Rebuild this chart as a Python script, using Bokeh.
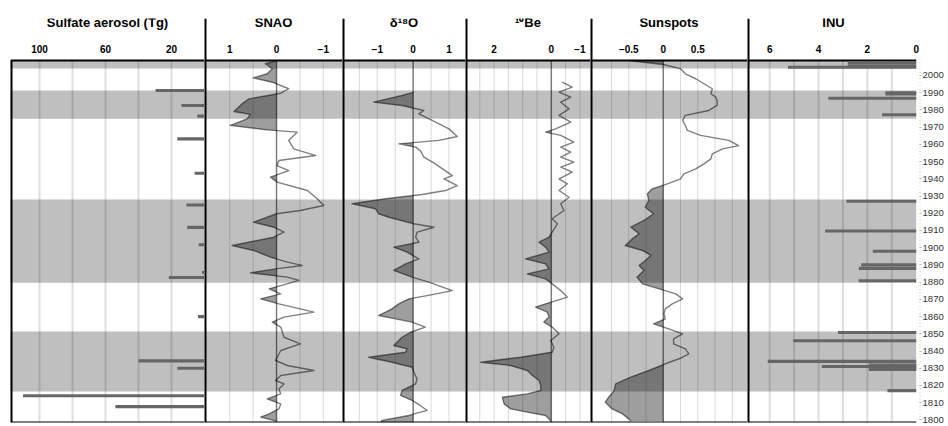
import numpy as np
from bokeh.plotting import figure
from bokeh.layouts import row
from bokeh.models import Range1d, FixedTicker, Span
from bokeh.embed import file_html
from bokeh.resources import INLINE

# ---------------- data ----------------
band_start = [1816.5, 1879.6, 1974.9, 2004.0]
band_end = [1851.3, 1928.0, 1991.3, 2008.7]

sulfate_year = [1991.3, 1982.6, 1976.4, 1963.2, 1943.2, 1924.8, 1911.8, 1901.7,
                1885.6, 1882.7, 1860.0, 1834.3, 1830.0, 1814.0, 1807.7]
sulfate_tg = [29.7, 14.0, 4.4, 16.5, 6.0, 11.0, 10.5, 3.5,
              1.5, 21.6, 4.0, 40.0, 16.5, 110.0, 54.0]

inu_year = [2007.3, 2005.5, 2004.8, 1990.0, 1989.3, 1986.8, 1977.2, 1927.0,
            1909.7, 1897.9, 1890.0, 1888.0, 1880.8, 1850.8, 1846.0, 1834.0,
            1831.8, 1831.0, 1830.2, 1829.3, 1817.0]
inu_value = [2.8, 2.8, 5.25, 1.26, 1.26, 3.6, 1.4, 2.86,
             3.73, 1.78, 2.25, 2.35, 2.36, 3.2, 5.04, 6.08,
             1.94, 3.87, 1.94, 1.94, 1.18]

snao_year = [2008.3, 2006.8, 2003.9, 2001.0, 1998.6, 1996.1, 1992.3, 1989.7, 1986.4, 1983.5,
             1979.1, 1977.4, 1974.8, 1971.0, 1968.4, 1967.1, 1962.3, 1957.4, 1953.5, 1950.6,
             1947.7, 1944.8, 1941.0, 1938.1, 1933.2, 1928.4, 1924.5, 1921.6, 1919.7, 1917.7,
             1914.8, 1911.9, 1909.0, 1906.1, 1901.3, 1898.4, 1894.5, 1891.6, 1889.7, 1887.7,
             1885.4, 1882.9, 1881.0, 1878.0, 1876.1, 1873.2, 1870.3, 1867.4, 1862.6, 1859.7,
             1856.8, 1853.9, 1848.0, 1844.2, 1840.3, 1834.5, 1831.6, 1828.7, 1825.8, 1822.9,
             1820.9, 1818.0, 1815.1, 1812.2, 1809.3, 1806.4, 1803.5, 1801.6, 1799.3]
snao_value = [0.02, 0.24, 0.09, 0.20, 0.50, 0.09, -0.26, -0.09, 0.59, 0.74,
              0.91, 0.56, 0.63, 0.99, 0.20, -0.44, -0.26, -0.37, -0.84, -0.05,
              -0.01, -0.26, 0.13, -0.01, -0.66, -0.87, -1.01, -0.51, 0.00, 0.20,
              0.49, 0.06, -0.16, 0.06, 0.95, 0.49, 0.13, -0.23, -0.55, 0.02,
              0.56, -0.23, -0.48, -0.09, 0.16, -0.09, 0.34, -0.05, -0.80, -0.16,
              0.09, -0.09, -0.16, -0.51, -0.09, 0.02, -0.23, -0.80, -0.09, 0.02,
              -0.16, -0.05, -0.09, 0.20, -0.09, -0.05, 0.16, 0.34, 0.00]

d18o_year = [1990.3, 1988.4, 1984.5, 1982.6, 1979.7, 1977.7, 1973.9, 1969.0, 1964.6, 1962.3,
             1960.3, 1958.4, 1956.4, 1952.6, 1948.7, 1943.9, 1941.9, 1940.0, 1938.1, 1936.1,
             1933.2, 1930.9, 1928.4, 1925.5, 1922.6, 1919.7, 1917.7, 1913.9, 1911.9, 1909.0,
             1906.1, 1903.2, 1900.3, 1897.4, 1893.5, 1890.6, 1886.8, 1882.9, 1880.0, 1875.1,
             1872.2, 1870.3, 1867.4, 1864.5, 1860.6, 1858.7, 1856.8, 1853.9, 1850.9, 1848.0,
             1845.1, 1843.2, 1841.3, 1839.3, 1836.4, 1833.5, 1830.6, 1827.7, 1823.8, 1820.9,
             1817.1, 1814.2, 1811.3, 1808.4, 1805.5, 1802.6, 1799.7, 1798.5]
d18o_value = [0.02, -0.31, -1.10, -0.31, 0.30, 0.16, 0.53, 1.00, 1.23, 0.72,
              -0.40, 0.07, 0.20, 0.30, 0.62, 0.95, 1.09, 0.86, 1.04, 1.23,
              0.90, 0.25, -0.77, -1.70, -1.05, -0.96, -0.68, 0.02, 0.58, 0.11,
              0.07, 0.16, -0.54, -0.17, 0.16, -0.21, -0.54, -0.03, 0.44, 1.09,
              0.39, -0.12, -0.40, -0.59, -0.96, -0.49, -0.03, 0.34, -0.07, -0.31,
              -0.45, -0.54, -0.17, -0.21, -1.24, -0.59, -0.03, 0.02, 0.11, 0.07,
              -0.31, -0.35, -0.03, 0.20, 0.39, -0.12, -0.87, -0.90]

be10_year = [1996.1, 1993.2, 1990.3, 1987.4, 1984.5, 1980.6, 1976.8, 1972.9, 1969.0, 1967.1,
             1965.2, 1961.3, 1958.4, 1955.5, 1952.6, 1949.7, 1946.8, 1943.9, 1940.0, 1937.1,
             1933.2, 1929.3, 1925.5, 1921.6, 1916.8, 1913.9, 1909.0, 1906.1, 1903.2, 1900.3,
             1897.4, 1893.5, 1890.6, 1887.7, 1884.8, 1881.9, 1879.0, 1875.1, 1871.3, 1867.4,
             1865.5, 1862.6, 1859.7, 1856.8, 1853.9, 1850.0, 1846.1, 1842.2, 1839.3, 1836.4,
             1833.5, 1831.6, 1828.7, 1825.8, 1822.9, 1820.0, 1817.1, 1815.1, 1813.2, 1809.3,
             1806.4, 1804.5, 1802.6, 1800.6, 1799.3]
be10_value = [-0.38, -0.73, -0.27, -0.68, -0.33, -0.62, -0.27, -0.68, -0.15, 0.20,
              -0.33, -0.79, -0.33, -0.68, -0.33, -0.79, -0.33, -0.73, -0.27, -0.56,
              -0.27, -0.62, -0.33, -0.44, -0.03, -0.21, -0.03, 0.08, 0.43, 0.20,
              0.08, 0.90, 0.20, 0.08, 0.84, 0.20, -0.03, -0.33, -0.56, 0.20,
              0.55, 0.14, 0.08, 0.26, -0.03, -0.27, 0.02, -0.09, -0.03, 1.07,
              2.47, 1.42, 0.84, 0.66, 0.43, 0.37, 0.37, 0.84, 1.71, 1.65,
              1.42, 0.84, 0.20, 0.08, 0.02]

sun_year = [2008.7, 2006.4, 2003.9, 2001.0, 1998.1, 1995.2, 1992.3, 1989.4, 1987.4, 1985.5,
            1982.6, 1979.7, 1976.8, 1973.9, 1971.0, 1968.1, 1965.2, 1962.3, 1959.3, 1957.4,
            1954.5, 1951.6, 1948.7, 1945.8, 1942.9, 1940.0, 1937.1, 1934.2, 1931.3, 1927.4,
            1923.5, 1919.7, 1915.8, 1911.9, 1908.1, 1905.1, 1901.3, 1898.4, 1895.5, 1892.6,
            1889.7, 1886.8, 1882.9, 1879.0, 1876.1, 1873.2, 1870.3, 1867.4, 1864.5, 1861.6,
            1858.7, 1855.8, 1852.9, 1850.0, 1847.1, 1844.2, 1841.3, 1838.4, 1835.5, 1832.6,
            1828.7, 1824.8, 1820.9, 1817.1, 1813.2, 1810.3, 1806.4, 1803.5, 1800.6, 1799.3]
sun_value = [-0.50, 0.00, 0.25, 0.32, 0.47, 0.59, 0.71, 0.69, 0.76, 0.78,
             0.78, 0.66, 0.32, 0.28, 0.32, 0.35, 0.54, 0.95, 1.09, 0.86,
             0.71, 0.69, 0.59, 0.47, 0.30, 0.25, 0.06, -0.16, -0.23, -0.21,
             -0.26, -0.14, -0.28, -0.47, -0.35, -0.45, -0.55, -0.30, -0.18, -0.26,
             -0.35, -0.28, -0.38, -0.30, -0.06, 0.18, 0.28, 0.13, 0.03, 0.01,
             0.03, -0.14, 0.08, 0.28, 0.15, 0.15, 0.32, 0.37, 0.23, 0.03,
             -0.21, -0.47, -0.69, -0.71, -0.79, -0.84, -0.74, -0.59, -0.50, -0.47]

year_ticks = list(range(1800, 2001, 10))
year_minor = list(range(1800, 2009, 2))

# ---------------- layout constants ----------------
FONT = "Liberation Sans"
FIG_H = 424
TOP = 18                     # canvas y of the frame top (divider tops)
Y0, Y1 = 1798.5, 2008.7      # data frame of the panels
PX_PER_YEAR = 362 / (Y1 - Y0)
Y_TOP = Y1 + (60 - TOP) / PX_PER_YEAR   # headroom for the header inside the frame
yr = Range1d(Y0, Y_TOP)


def left_fill(years, vals, left_positive):
    s = 1.0 if left_positive else -1.0
    ys, xs = [], []
    for i, (y, v) in enumerate(zip(years, vals)):
        if i > 0:
            y0, v0 = years[i - 1], vals[i - 1]
            if ((s * v0) > 0) != ((s * v) > 0) and v0 != v:
                t = v0 / (v0 - v)
                ys.append(y0 + t * (y - y0))
                xs.append(0.0)
        ys.append(y)
        xs.append(v if s * v > 0 else 0.0)
    return ys, xs


def panel(width, xr, label_ticks, grid_ticks, title, solid_grid, mbl=0, mbr=0,
          right_axis=False, divider=True, data_right=None):
    p = figure(width=width, height=FIG_H, x_range=Range1d(*xr), y_range=yr,
               x_axis_location="above", y_axis_location="right" if right_axis else None,
               toolbar_location=None, output_backend="svg",
               min_border_left=mbl, min_border_right=mbr,
               min_border_top=TOP, min_border_bottom=2,
               background_fill_color="white", border_fill_color="white")
    p.outline_line_color = None
    ax = p.xaxis[0]
    ax.fixed_location = Y1
    ax.ticker = FixedTicker(ticks=label_ticks)
    ax.axis_label = title
    ax.axis_label_text_font = FONT
    ax.axis_label_text_font_style = "bold"
    ax.axis_label_text_font_size = "13px"
    ax.axis_label_text_color = "black"
    ax.axis_label_standoff = 12
    ax.major_label_text_font = FONT
    ax.major_label_text_font_style = "bold"
    ax.major_label_text_font_size = "10px"
    ax.major_label_text_color = "black"
    ax.major_label_standoff = 8
    ax.major_tick_out = 0
    ax.major_tick_in = 0
    ax.minor_tick_out = 0
    ax.minor_tick_in = 0
    ax.axis_line_color = None
    ax.major_tick_line_color = None
    ax.minor_tick_line_color = None
    p.xgrid.visible = False
    p.ygrid.visible = False

    # vertical grid lines, only inside the data frame
    n = len(grid_ticks)
    if solid_grid:
        p.segment(x0=grid_ticks, x1=grid_ticks, y0=[Y0] * n, y1=[Y1] * n,
                  line_color="black", line_alpha=0.13, line_width=2)
    else:
        p.segment(x0=grid_ticks, x1=grid_ticks, y0=[Y0] * n, y1=[Y1] * n,
                  line_color="black", line_alpha=0.3, line_width=1, line_dash="1 1")

    lo, hi = min(xr) - 1, max(xr) + 1
    if data_right is not None:
        lo = min(xr[0], data_right)
        hi = max(xr[0], data_right)
    p.quad(left=lo, right=hi, bottom=band_start, top=band_end,
           fill_color="black", fill_alpha=0.25, line_color=None)

    # frame top / bottom
    if data_right is None:
        p.add_layout(Span(location=Y1, dimension="width", line_color="black", line_width=2))
        p.add_layout(Span(location=Y0, dimension="width", line_color="black", line_width=2))
    else:
        p.segment(x0=[xr[0], xr[0]], x1=[data_right, data_right], y0=[Y1, Y0], y1=[Y1, Y0],
                  line_color="black", line_width=2)
    if divider:
        p.add_layout(Span(location=xr[0], dimension="height", line_color="black",
                          line_width=4))
    return p


def curve(p, years, vals, left_positive):
    ys, xs = left_fill(years, vals, left_positive)
    p.harea(x1=[0.0] * len(xs), x2=xs, y=ys, fill_color="black", fill_alpha=0.38)
    p.line(x=vals, y=years, line_color="black", line_alpha=0.5, line_width=1.4,
           line_join="round")
    p.segment(x0=[0], x1=[0], y0=[Y0], y1=[Y1], line_color="black",
              line_alpha=0.45, line_width=1.5)


# Sulfate
p1 = panel(204, (117.6, 0.0), [100, 60, 20], [100, 80, 60, 40, 20],
           "Sulfate aerosol (Tg)", True, mbl=10, divider=False)
p1.hbar(y=sulfate_year, left=0, right=sulfate_tg, height=1.8,
        fill_color="#666666", line_color=None)
p1.segment(x0=[117.6], x1=[117.6], y0=[Y0], y1=[Y1], line_color="black", line_width=4)

# SNAO
p2 = panel(138, (1.54, -1.41), [1, 0, -1], [1, 0.5, 0, -0.5, -1], "SNAO", False)
curve(p2, snao_year, snao_value, True)

# d18O
p3 = panel(123, (-1.97, 1.46), [-1, 0, 1], [-1.5, -1, -0.5, 0, 0.5, 1], "δ¹⁸O", False)
curve(p3, d18o_year, d18o_value, False)

# 10Be
p4 = panel(125, (3.0, -1.37), [2, 0, -1], [2.5, 2, 1.5, 1, 0.5, 0, -0.5, -1], "¹⁰Be", False)
curve(p4, be10_year, be10_value, True)

# Sunspots
p5 = panel(157, (-1.054, 1.22), [-0.5, 0, 0.5], [-0.75, -0.5, -0.25, 0, 0.25, 0.5, 0.75, 1.0],
           "Sunspots", False)
curve(p5, sun_year, sun_value, False)

# INU (frame a little wider than the data so the "0" label is not cut)
p6 = panel(200, (6.91, -0.135), [6, 4, 2, 0], [6, 5, 4, 3, 2, 1], "INU", True, mbr=28,
           right_axis=True, data_right=0.0)
p6.hbar(y=inu_year, left=0, right=inu_value, height=1.8,
        fill_color="#666666", line_color=None)
ya = p6.yaxis[0]
ya.ticker = FixedTicker(ticks=year_ticks, minor_ticks=year_minor)
ya.major_label_text_font = FONT
ya.major_label_text_font_size = "9.6px"
ya.major_label_text_color = "#333333"
ya.major_label_standoff = 1
ya.major_tick_out = 2
ya.major_tick_in = 0
ya.minor_tick_out = 1
ya.minor_tick_in = 0
ya.major_tick_line_color = "#aaaaaa"
ya.minor_tick_line_color = "#cccccc"
ya.axis_line_color = None

layout = row(p1, p2, p3, p4, p5, p6, spacing=0)
open("out.html", "w").write(file_html(layout, INLINE))
